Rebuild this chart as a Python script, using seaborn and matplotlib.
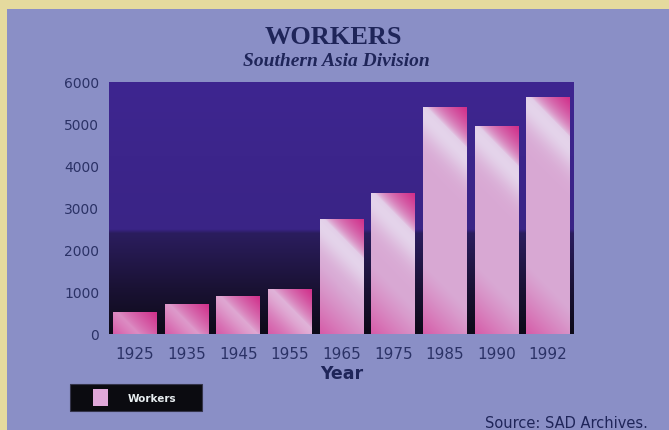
import numpy as np
import matplotlib
matplotlib.use("Agg")
import matplotlib.pyplot as plt
from matplotlib.colors import LinearSegmentedColormap
from matplotlib.patches import Rectangle, Patch
import seaborn as sns

# Workers per year, Southern Asia Division
years = ["1925", "1935", "1945", "1955", "1965", "1975", "1985", "1990", "1992"]
workers = [530, 720, 910, 1080, 2750, 3350, 5400, 4950, 5650]
y_ticks = [0, 1000, 2000, 3000, 4000, 5000, 6000]

sns.set_theme(style="white")
plt.rcParams["font.family"] = ["DejaVu Sans"]

NAVY = "#1f2559"
TICK = "#2b3266"
W, H = 669, 431

fig = plt.figure(figsize=(W / 100, H / 100), dpi=100, facecolor="#e5da9e")
# blue-lavender card behind the whole chart
fig.add_artist(Rectangle((7 / W, 0), 1 - 7 / W, 1 - 10 / H, transform=fig.transFigure,
                         facecolor="#8a8fc6", edgecolor="none", zorder=0))

ax = fig.add_axes([109 / W, 1 - 335 / H, 465 / W, 252 / H])
ax.set_facecolor("#231650")

# plot-area backdrop: purple sky fading to near black at the base
bg_cmap = LinearSegmentedColormap.from_list(
    "backdrop",
    [(0.0, "#0d0a18"), (0.18, "#1a1234"), (0.40, "#2b1d5e"),
     (0.415, "#3a2486"), (1.0, "#3e2690")])
grad = np.linspace(0, 1, 256).reshape(-1, 1)
ax.imshow(grad, extent=(0, 1, 0, 1), transform=ax.transAxes, origin="lower",
          aspect="auto", cmap=bg_cmap, zorder=0, interpolation="bilinear")

sns.barplot(x=years, y=workers, width=0.85, color="#d8a0d0", saturation=1,
            edgecolor="none", ax=ax, zorder=2)

ax.set_xlim(-0.5, len(years) - 0.5)
ax.set_ylim(0, 6000)

# diagonal pink/white shading inside every bar
px_x = (465 / len(years))
px_y = 252 / 6000
L = np.array([0.85, 0.66, 0.83])
Wc = np.array([0.90, 0.85, 0.93])
P = np.array([0.84, 0.36, 0.66])
M = np.array([0.82, 0.18, 0.54])
for bar in list(ax.patches):
    x0, bw, bh = bar.get_x(), bar.get_width(), bar.get_height()
    wpx, hpx = bw * px_x, bh * px_y
    nx, ny = int(wpx) + 1, int(hpx) + 1
    X, Y = np.meshgrid(np.linspace(0, wpx, nx), np.linspace(0, hpx, ny))
    s_tr = (wpx - X) + (hpx - Y)
    s_bl = X + Y
    img = np.ones((ny, nx, 3)) * L
    w = (np.exp(-((s_tr - 50) / 24) ** 2) * 0.9)[..., None]
    img = img * (1 - w) + Wc * w
    p = (np.clip(1 - s_bl / 70, 0, 1) ** 1.2)[..., None]
    img = img * (1 - p) + P * p
    m = (np.clip(1 - s_tr / 40, 0, 1) ** 0.7)[..., None]
    img = img * (1 - m) + M * m
    im = ax.imshow(img, extent=(x0, x0 + bw, 0, bh), origin="lower", aspect="auto",
                   zorder=3, interpolation="bilinear")
    im.set_clip_path(bar)

ax.set_xlim(-0.5, len(years) - 0.5)
ax.set_ylim(0, 6000)
ax.set_yticks(y_ticks)
ax.tick_params(axis="both", length=0, labelcolor=TICK)
ax.tick_params(axis="y", pad=7, labelsize=10)
ax.tick_params(axis="x", pad=9, labelsize=11)
for s in ax.spines.values():
    s.set_visible(False)
ax.set_ylabel("")
ax.set_xlabel("Year", fontsize=12.5, fontweight="bold", color=NAVY, labelpad=2)

fig.text(333 / W, 1 - 38 / H, "WORKERS", ha="center", va="center",
         family=["Liberation Serif"], fontweight="bold", fontsize=19, color=NAVY)
fig.text(336 / W, 1 - 61 / H, "Southern Asia Division", ha="center", va="center",
         family=["Liberation Serif"], fontweight="bold", style="italic",
         fontsize=14, color=NAVY)
fig.text(648 / W, 1 - 424 / H, "Source: SAD Archives.", ha="right", va="center",
         fontsize=10.5, color=NAVY)

# legend on a black plate
fig.add_artist(Rectangle((70 / W, 1 - 412 / H), 132 / W, 27 / H, transform=fig.transFigure,
                         facecolor="#0b0b10", edgecolor="#34344a", lw=0.8, zorder=4))
fig.legend(handles=[Patch(facecolor="#e0a8d8", edgecolor="none", label="Workers")],
           loc="center left", bbox_to_anchor=(93 / W, 1 - 398.5 / H), frameon=False,
           prop={"size": 7.5, "weight": "bold"}, labelcolor="#e8eef0",
           handlelength=1.4, handleheight=2.0, handletextpad=1.9,
           borderpad=0, borderaxespad=0)

fig.savefig("out.png", dpi=100, facecolor=fig.get_facecolor())
